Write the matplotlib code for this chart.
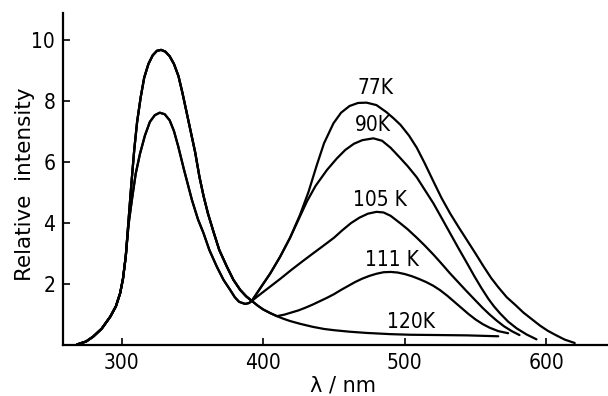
import matplotlib
matplotlib.use('Agg')
import matplotlib.pyplot as plt

# shared UV band (nm, relative intensity)
uv_low_x = [268.5, 275, 280, 286, 292, 296, 299, 301, 303, 305, 307.3, 310, 313,
            316.5, 320, 323.5, 327, 330.5, 334, 337, 340, 344, 349.7, 354, 357.9,
            362, 367.3, 372, 376.7, 380, 383, 387.3, 390, 392]
uv_low_y = [0.0, 0.1, 0.26, 0.52, 0.91, 1.25, 1.68, 2.15, 2.9, 3.95, 4.74, 5.6, 6.25,
            6.85, 7.3, 7.52, 7.6, 7.55, 7.35, 7.0, 6.5, 5.75, 4.74, 4.1, 3.65,
            3.1, 2.55, 2.12, 1.79, 1.55, 1.4, 1.33, 1.36, 1.43]

uv_high_x = [268.5, 275, 280, 286, 292, 296, 299, 301, 303, 305, 307, 309, 311,
             313.5, 316, 319, 322, 325, 328, 331, 334, 337, 340.2, 343, 346.1, 349,
             352, 355, 358, 361, 364.9, 369, 374.4, 379, 383.8, 388, 392]
uv_high_y = [0.0, 0.1, 0.26, 0.52, 0.91, 1.25, 1.68, 2.15, 2.9, 4.1, 5.3, 6.4, 7.3,
             8.1, 8.75, 9.2, 9.48, 9.63, 9.66, 9.6, 9.45, 9.2, 8.8, 8.25, 7.58, 6.95,
             6.3, 5.5, 4.85, 4.3, 3.7, 3.1, 2.55, 2.12, 1.79, 1.58, 1.43]

# visible band, one per temperature
vis_77_x = [398, 405, 412, 419, 426, 432, 438, 443, 449.6, 455, 461, 467, 473, 480,
            487, 492, 497, 503, 508.5, 514, 520.2, 526, 532, 538, 543.8, 550, 555.5,
            561, 566, 572, 578, 583.7, 590, 595.5, 601, 607, 613, 620]
vis_77_y = [1.85, 2.33, 2.88, 3.5, 4.25, 5.0, 5.9, 6.6, 7.25, 7.6, 7.82, 7.92, 7.93,
            7.85, 7.62, 7.42, 7.2, 6.85, 6.45, 5.95, 5.35, 4.8, 4.3, 3.85, 3.43, 2.98,
            2.57, 2.18, 1.88, 1.55, 1.3, 1.05, 0.82, 0.62, 0.45, 0.3, 0.16, 0.05]

vis_90_x = [398, 405, 412, 419, 426, 431, 437, 445, 452, 458, 464, 470, 477.8, 484,
            490, 496.7, 502, 508.5, 514, 520.2, 526, 532, 538, 543.8, 549, 554, 559,
            563, 567.3, 573, 579, 586, 593]
vis_90_y = [1.85, 2.33, 2.88, 3.5, 4.2, 4.7, 5.2, 5.72, 6.1, 6.38, 6.58, 6.7, 6.76,
            6.68, 6.45, 6.12, 5.85, 5.48, 5.08, 4.63, 4.15, 3.65, 3.15, 2.68, 2.25,
            1.86, 1.5, 1.25, 1.02, 0.75, 0.53, 0.33, 0.17]

vis_105_x = [398, 405, 412, 420, 427, 435, 442, 450, 456, 462, 468, 474, 480, 485,
             490, 496.7, 502, 508.5, 514, 520.2, 526, 532, 537, 543, 549.6, 555, 560,
             565, 570, 575.5, 581]
vis_105_y = [1.65, 1.9, 2.15, 2.45, 2.7, 2.98, 3.22, 3.5, 3.75, 3.98, 4.16, 4.29,
             4.35, 4.33, 4.22, 3.98, 3.78, 3.5, 3.25, 2.95, 2.65, 2.33, 2.08, 1.78,
             1.46, 1.2, 0.98, 0.78, 0.6, 0.44, 0.31]

drop_x = [396, 400, 405, 409.7]
drop_y = [1.28, 1.15, 1.03, 0.93]

vis_111_x = [415, 420, 425, 430, 435, 440, 445, 450, 455, 460, 465, 470, 475, 480,
             485, 490, 495, 500, 505, 510, 515, 520, 525, 530, 535, 540, 545, 550,
             555, 560, 566, 573]
vis_111_y = [0.98, 1.05, 1.12, 1.21, 1.31, 1.42, 1.53, 1.65, 1.79, 1.92, 2.05, 2.16,
             2.25, 2.32, 2.37, 2.38, 2.36, 2.31, 2.24, 2.15, 2.05, 1.93, 1.78, 1.6,
             1.4, 1.2, 1.0, 0.82, 0.67, 0.55, 0.44, 0.37]

vis_120_x = [414, 419, 426, 435, 443, 450, 461, 473, 490, 504, 525, 544, 566]
vis_120_y = [0.85, 0.77, 0.68, 0.58, 0.51, 0.47, 0.42, 0.38, 0.34, 0.32, 0.31, 0.30,
             0.27]

labels = ['77K', '90K', '105 K', '111 K', '120K']
label_x = [479, 477.6, 482.6, 491, 504.4]
label_y = [8.41, 7.2, 4.74, 2.77, 0.74]

x_ticks = [300, 400, 500, 600]
y_ticks = [2, 4, 6, 8, 10]

curves = [
    (uv_low_x + vis_77_x, uv_low_y + vis_77_y),
    (uv_low_x + vis_90_x, uv_low_y + vis_90_y),
    (uv_high_x + vis_105_x, uv_high_y + vis_105_y),
    (uv_high_x + drop_x + vis_111_x, uv_high_y + drop_y + vis_111_y),
    (uv_high_x + drop_x + vis_120_x, uv_high_y + drop_y + vis_120_y),
]

fig = plt.figure(figsize=(6.08, 3.96), dpi=100)
ax = fig.add_axes([0.1044, 0.13, 0.8956, 0.838])

for xs, ys in curves:
    ax.plot(xs, ys, color='black', linewidth=1.6, solid_joinstyle='round',
            solid_capstyle='round')

for text, x, y in zip(labels, label_x, label_y):
    ax.text(x, y, text, ha='center', va='center', fontsize=15,
            fontstretch='condensed')

ax.set_xlim(259, 643.5)
ax.set_ylim(0, 10.88)

ax.spines['top'].set_visible(False)
ax.spines['right'].set_visible(False)
ax.spines['left'].set_linewidth(1.6)
ax.spines['bottom'].set_linewidth(1.6)

ax.set_xticks(x_ticks)
ax.set_yticks(y_ticks)
ax.tick_params(direction='in', length=5, width=1.2, pad=6)
for lab in ax.get_xticklabels() + ax.get_yticklabels():
    lab.set_fontstretch('condensed')
    lab.set_fontsize(15)

ax.set_xlabel('λ / nm', fontsize=15)
ax.xaxis.set_label_coords(0.513, -0.122)
ax.xaxis.label.set_va('center')

ax.set_ylabel('Relative  intensity', fontsize=15.5)
ax.yaxis.set_label_coords(-0.07, 0.482)
ax.yaxis.label.set_va('center')

fig.savefig('out.png', dpi=100)
